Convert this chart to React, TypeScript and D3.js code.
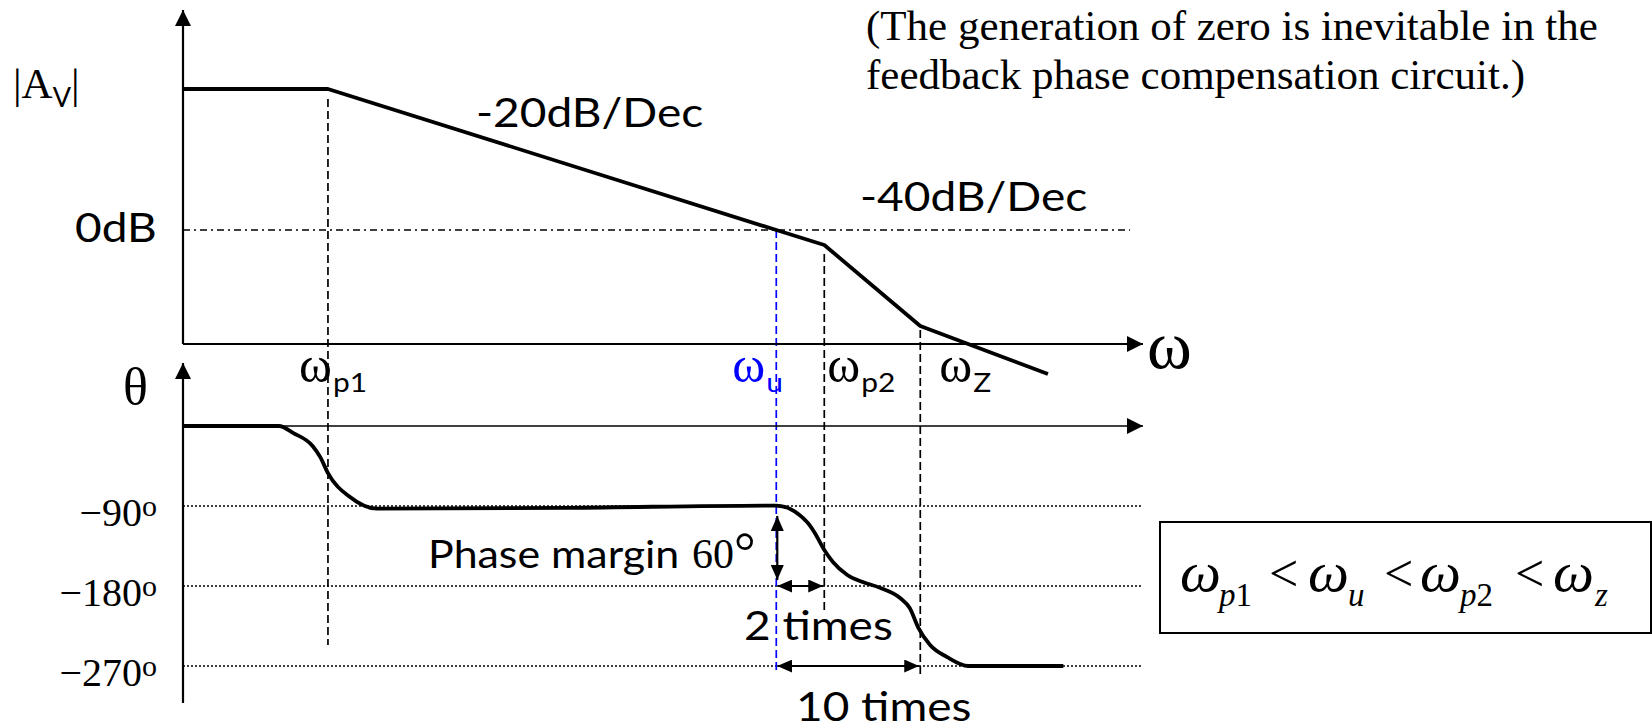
import React, { useEffect, useRef } from 'react';
import * as d3 from 'd3';

// Characteristic frequencies (position along the ω axis, relative units)
const freqNames = ['p1', 'u', 'p2', 'Z'];
const freqValues = [15.1, 61.8, 66.8, 76.8];

// Magnitude asymptote: breakpoints (x) and gain in dB
const magX = [0, 15.1, 61.8, 66.8, 76.8, 90.1];
const magDb = [80, 80, 0, -8.5, -54.5, -81.7];

// Phase curve samples: x and degrees
const phaseX = [0, 10, 11.5, 13.5, 14.3, 15.1, 17.4, 20.2, 40, 61.8, 65.0, 65.8, 66.8, 67.7, 69.2, 70.8, 72.6, 74.7, 75.7, 76.6, 77.8, 79.6, 81.8, 91.7];
const phaseDeg = [0, 0, -8, -22.5, -35, -53, -80, -93, -92, -89.5, -108, -120, -139.5, -153, -167.6, -175.5, -182, -193.5, -204.75, -227, -246, -260, -270, -270];

// Phase tick values and labels
const phaseTicks = [-90, -180, -270];
const phaseTickLabels = ['−90', '−180', '−270'];

// Slope labels
const slopeLabels = ['-20dB/Dec', '-40dB/Dec'];

const W = 1652;
const H = 728;
const sans = 'Lato, "DejaVu Sans", sans-serif';
const serif = '"Liberation Serif", "Times New Roman", serif';
const stretch = 1.15;

function sansText(parent: any, x: number, y: number, str: string, size: number, color = '#000', sx = stretch) {
  return parent.append('text')
    .attr('transform', `translate(${x},${y}) scale(${sx},1)`)
    .attr('font-family', sans)
    .attr('font-size', size)
    .attr('fill', color)
    .text(str);
}

function serifText(parent: any, x: number, y: number, str: string, size: number, color = '#000') {
  return parent.append('text')
    .attr('x', x).attr('y', y)
    .attr('font-family', serif)
    .attr('font-size', size)
    .attr('fill', color)
    .text(str);
}

export default function App() {
  const ref = useRef<SVGSVGElement>(null);

  useEffect(() => {
    const svg = d3.select(ref.current);
    svg.selectAll('*').remove();

    //Layout
    const left = 183, right = 1143;
    const magAxisY = 344, magTop = 10;
    const phTop = 363, phBottom = 703;

    //Scales
    const x = d3.scaleLinear().domain([0, 100]).range([left, right]);
    const yMag = d3.scaleLinear().domain([0, 80]).range([230, 89]);
    const yPh = d3.scaleLinear().domain([0, -270]).range([426, 666]);

    //Arrow markers
    const defs = svg.append('defs');
    const marker = (id: string, w: number, h: number) =>
      defs.append('marker')
        .attr('id', id)
        .attr('viewBox', '0 0 10 10')
        .attr('preserveAspectRatio', 'none')
        .attr('refX', 10).attr('refY', 5)
        .attr('markerWidth', w).attr('markerHeight', h)
        .attr('markerUnits', 'userSpaceOnUse')
        .attr('orient', 'auto-start-reverse')
        .append('path').attr('d', 'M0,0 L10,5 L0,10 Z').attr('fill', '#000');
    marker('axisArrow', 16, 16);
    marker('dimArrow', 15, 13);

    const g = svg.append('g');

    //Reference lines: 0dB dash-dot and phase dotted lines
    g.append('line')
      .attr('x1', left).attr('x2', 1130)
      .attr('y1', yMag(0)).attr('y2', yMag(0))
      .attr('stroke', '#000').attr('stroke-width', 1.4)
      .attr('stroke-dasharray', '7,4,2,4');
    g.selectAll('.phgrid').data(phaseTicks).enter().append('line')
      .attr('class', 'phgrid')
      .attr('x1', left).attr('x2', 1141)
      .attr('y1', d => yPh(d)).attr('y2', d => yPh(d))
      .attr('stroke', '#000').attr('stroke-width', 1.6)
      .attr('stroke-dasharray', '2,2');

    //Frequency guide lines
    const guideTop = [yMag(80) + 10, yMag(0), 254, 330];
    const guideBottom = [645, 672, 612, 678];
    freqValues.forEach((f, i) => {
      g.append('line')
        .attr('x1', x(f)).attr('x2', x(f))
        .attr('y1', guideTop[i]).attr('y2', guideBottom[i])
        .attr('stroke', i === 1 ? '#0000ff' : '#000')
        .attr('stroke-width', 1.7)
        .attr('stroke-dasharray', '8,4');
    });

    //Axes
    g.append('line').attr('x1', left).attr('x2', left).attr('y1', magAxisY).attr('y2', magTop)
      .attr('stroke', '#000').attr('stroke-width', 2.2).attr('marker-end', 'url(#axisArrow)');
    g.append('line').attr('x1', left).attr('x2', right).attr('y1', magAxisY).attr('y2', magAxisY)
      .attr('stroke', '#000').attr('stroke-width', 2).attr('marker-end', 'url(#axisArrow)');
    g.append('line').attr('x1', left).attr('x2', left).attr('y1', phBottom).attr('y2', phTop)
      .attr('stroke', '#000').attr('stroke-width', 2.2).attr('marker-end', 'url(#axisArrow)');
    g.append('line').attr('x1', left).attr('x2', right).attr('y1', yPh(0)).attr('y2', yPh(0))
      .attr('stroke', '#000').attr('stroke-width', 1.6).attr('marker-end', 'url(#axisArrow)');

    //Magnitude asymptote
    const magLine = d3.line<number>().x((d, i) => x(magX[i])).y(d => yMag(d));
    g.append('path').attr('d', magLine(magDb))
      .attr('fill', 'none').attr('stroke', '#000').attr('stroke-width', 3.8)
      .attr('stroke-linejoin', 'round');

    //Phase curve
    const phLine = d3.line<number>().x((d, i) => x(phaseX[i])).y(d => yPh(d)).curve(d3.curveMonotoneX);
    g.append('path').attr('d', phLine(phaseDeg))
      .attr('fill', 'none').attr('stroke', '#000').attr('stroke-width', 3.8)
      .attr('stroke-linejoin', 'round');

    //Dimension arrows
    const wu = freqValues[1], wp2 = freqValues[2], wz = freqValues[3];
    g.append('line').attr('x1', x(wu) + 1).attr('x2', x(wu) + 1)
      .attr('y1', yPh(-90) + 10).attr('y2', yPh(-180) - 6)
      .attr('stroke', '#000').attr('stroke-width', 2.2)
      .attr('marker-start', 'url(#dimArrow)').attr('marker-end', 'url(#dimArrow)');
    g.append('line').attr('x1', x(wu) + 1).attr('x2', x(wp2) - 1)
      .attr('y1', yPh(-180)).attr('y2', yPh(-180))
      .attr('stroke', '#000').attr('stroke-width', 2.2)
      .attr('marker-start', 'url(#dimArrow)').attr('marker-end', 'url(#dimArrow)');
    g.append('line').attr('x1', x(wu) + 1).attr('x2', x(wz) - 1)
      .attr('y1', yPh(-270)).attr('y2', yPh(-270))
      .attr('stroke', '#000').attr('stroke-width', 2.2)
      .attr('marker-start', 'url(#dimArrow)').attr('marker-end', 'url(#dimArrow)');

    //Axis titles
    const av = serifText(g, 13, 98, '|A', 43);
    av.append('tspan').attr('font-family', sans).attr('font-size', 27).attr('dy', 9).text('V');
    av.append('tspan').attr('dy', -9).text('|');
    serifText(g, 123, 404, 'θ', 52);
    serifText(g, 1147, 368, 'ω', 68);

    //0dB label and slope labels
    sansText(g, 75, 242, '0dB', 40);
    sansText(g, 476, 127, slopeLabels[0], 40);
    sansText(g, 860, 211, slopeLabels[1], 40);

    //Phase tick labels
    phaseTicks.forEach((t, i) => {
      const tx = serifText(g, 157, yPh(t) + 20, phaseTickLabels[i], 40).attr('text-anchor', 'end');
      tx.append('tspan').attr('font-size', 30).attr('dy', -10).text('o');
    });

    //Frequency labels
    const labelDx = [-29, -44, 3, 19];
    freqValues.forEach((f, i) => {
      const col = i === 1 ? '#0000ff' : '#000';
      const lx = x(f) + labelDx[i];
      serifText(g, lx, 382, 'ω', 50, col);
      sansText(g, lx + 34, 392, freqNames[i], 26, col);
    });

    //Phase margin annotations
    sansText(g, 428, 568, 'Phase margin', 39, '#000', 1.1);
    const pm = serifText(g, 692, 568, '60', 42);
    pm.append('tspan').attr('font-size', 54).attr('dy', 2).text('°');
    sansText(g, 744, 640, '2 times', 40);
    sansText(g, 796, 721, '10 times', 40);

    //Note at top right
    serifText(g, 866, 40, '(The generation of zero is inevitable in the', 43);
    serifText(g, 866, 89, 'feedback phase compensation circuit.)', 43);

    //Inequality box
    g.append('rect').attr('x', 1160).attr('y', 522).attr('width', 491).attr('height', 111)
      .attr('fill', 'none').attr('stroke', '#000').attr('stroke-width', 2);
    const eq = g.append('text').attr('font-family', serif).attr('fill', '#000');
    const tok = (t: string, tx: number | null, ty: number | null, size: number, italic: boolean) => {
      const s = eq.append('tspan').attr('font-size', size).attr('font-style', italic ? 'italic' : 'normal').text(t);
      if (tx !== null) s.attr('x', tx);
      if (ty !== null) s.attr('y', ty);
    };
    tok('ω', 1180, 591, 58, true); tok('p', 1219, 606, 33, true); tok('1', null, null, 33, false);
    tok('<', 1269, 591, 52, false);
    tok('ω', 1308, 591, 58, true); tok('u', 1348, 606, 33, true);
    tok('<', 1384, 591, 52, false);
    tok('ω', 1420, 591, 58, true); tok('p', 1460, 606, 33, true); tok('2', null, null, 33, false);
    tok('<', 1515, 591, 52, false);
    tok('ω', 1553, 591, 58, true); tok('z', 1595, 606, 33, true);
  }, []);

  return (
    <svg ref={ref} width={W} height={H}
      style={{ position: 'absolute', left: 0, top: 0, background: '#fff', display: 'block' }} />
  );
}
